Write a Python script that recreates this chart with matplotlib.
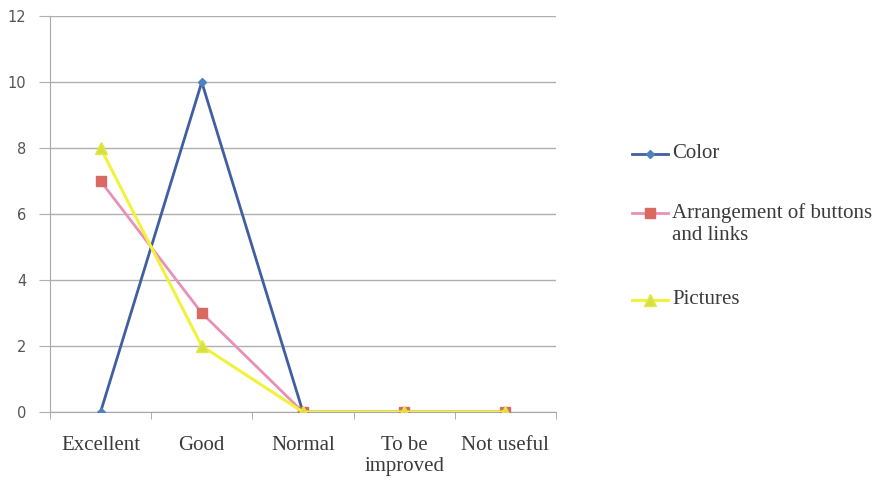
import matplotlib
matplotlib.use("Agg")
from matplotlib import pyplot as plt
from matplotlib.lines import Line2D

# survey ratings per category
categories = ["Excellent", "Good", "Normal", "To be\nimproved", "Not useful"]
color_votes = [0, 10, 0, 0, 0]
arrangement_votes = [7, 3, 0, 0, 0]
pictures_votes = [8, 2, 0, 0, 0]
series_names = ["Color", "Arrangement of buttons\nand links", "Pictures"]
y_ticks = [0, 2, 4, 6, 8, 10, 12]

SERIF = "Liberation Serif"
TEXT_COLOR = "#3a3a3a"

fig = plt.figure(figsize=(8.83, 4.87), dpi=100, facecolor="white")
ax = fig.add_axes([0.0566, 0.154, 0.573, 0.813])

styles = [
    dict(color="#3f5fa0", linewidth=2.0, marker="D", markersize=4,
         markerfacecolor="#4f81bd", markeredgecolor="#4f81bd"),
    dict(color="#e890b8", linewidth=2.0, marker="s", markersize=7,
         markerfacecolor="#d86a62", markeredgecolor="#d86a62"),
    dict(color="#f2f23c", linewidth=2.2, marker="^", markersize=8,
         markerfacecolor="#d8e040", markeredgecolor="#e0e848"),
]

x = list(range(len(categories)))
series = [color_votes, arrangement_votes, pictures_votes]
for i, (values, style) in enumerate(zip(series, styles)):
    ax.plot(x, values, zorder=3 + i, **style)

ax.set_xlim(-0.5, len(categories) - 0.5)
ax.set_ylim(0, 12)
ax.set_yticks(y_ticks)
ax.set_xticks(x)
ax.set_xticklabels(categories, family=SERIF, fontsize=15,
                   color=TEXT_COLOR, linespacing=1.2)
ax.set_xticks([i + 0.5 for i in range(-1, len(categories))], minor=True)
ax.tick_params(axis="x", which="major", length=0, pad=17)
ax.tick_params(axis="x", which="minor", length=5, color="#a0a0a0")
ax.tick_params(axis="y", length=8, color="#b0b0b0", labelsize=10.5,
               labelcolor="#555555", pad=9)

ax.grid(axis="y", color="#b0b0b0", linewidth=1.0)
ax.set_axisbelow(True)
for side in ("top", "right"):
    ax.spines[side].set_visible(False)
for side in ("left", "bottom"):
    ax.spines[side].set_color("#a8a8a8")

# legend keys, handle level with the first text line
key_rows = [154, 213, 300]  # px from top
line_pitch = 23  # px between wrapped legend lines
for name, style, row in zip(series_names, styles, key_rows):
    yf = 1 - row / 487
    key = Line2D([632 / 883, 650 / 883, 668 / 883], [yf, yf, yf],
                 transform=fig.transFigure, markevery=[1], **style)
    fig.lines.append(key)
    for j, part in enumerate(name.split("\n")):
        fig.text(672 / 883, yf - j * line_pitch / 487, part, family=SERIF,
                 fontsize=15, color=TEXT_COLOR, va="center", ha="left")

fig.savefig("out.png", dpi=100, facecolor="white")
